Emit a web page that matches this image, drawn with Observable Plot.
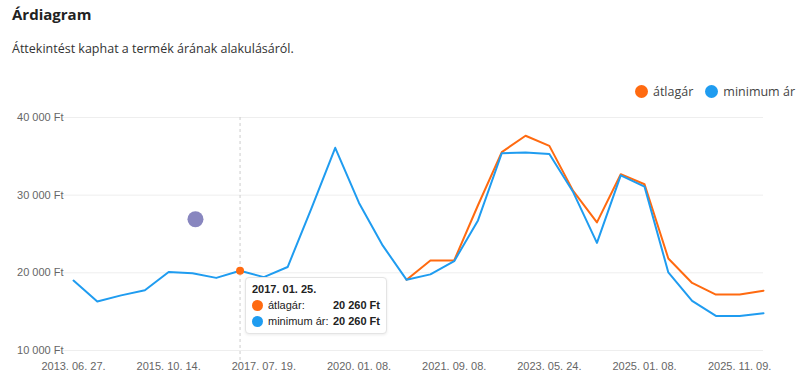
<!DOCTYPE html>
<html><head><meta charset="utf-8">
<script src="https://cdn.jsdelivr.net/npm/d3@7"></script>
<script src="https://cdn.jsdelivr.net/npm/@observablehq/plot@0.6"></script>
<style>
body{margin:0;background:#fff;font-family:"Open Sans",sans-serif;width:800px;height:384px;overflow:hidden;position:relative}
#title{position:absolute;left:12px;top:4px;font-size:15px;font-weight:700;color:#222}
#sub{position:absolute;left:12px;top:40px;font-size:12.5px;color:#333}
#legend{position:absolute;right:5px;top:83px;font-size:12.5px;color:#444;display:flex;gap:12px}
#legend span{display:flex;align-items:center}
#legend i{display:inline-block;width:13px;height:13px;border-radius:50%;margin-right:5px}
#chart{position:absolute;left:0;top:100px}
#tip{position:absolute;left:245px;top:277px;width:142px;height:57px;background:#fff;border:1px solid #e4e4e4;border-radius:4px;box-shadow:0 1px 3px rgba(0,0,0,.08);font-family:Arial,"Liberation Sans",sans-serif;font-size:11px;color:#222;box-sizing:border-box;padding:4px 6px}
#tip .h{font-weight:700;margin-bottom:2px;margin-top:1px}
#tip .r{display:flex;align-items:center;height:16px}
#tip .r i{display:inline-block;width:11px;height:11px;border-radius:50%;margin-right:5px}
#tip .r b{margin-left:auto}
</style></head><body>
<div id="title">Árdiagram</div>
<div id="sub">Áttekintést kaphat a termék árának alakulásáról.</div>
<div id="legend"></div>
<div id="chart"></div>
<div id="tip"></div>
<script>
const dates = ["2013. 06. 27.","2014. 01. 15.","2014. 08. 06.","2015. 03. 11.","2015. 10. 14.","2016. 03. 02.","2016. 08. 10.","2017. 01. 25.","2017. 07. 19.","2018. 02. 07.","2018. 09. 12.","2019. 05. 22.","2020. 01. 08.","2020. 06. 17.","2020. 11. 04.","2021. 04. 14.","2021. 09. 08.","2022. 02. 09.","2022. 07. 13.","2022. 12. 07.","2023. 05. 24.","2023. 10. 18.","2024. 03. 13.","2024. 08. 07.","2025. 01. 08.","2025. 04. 16.","2025. 07. 02.","2025. 09. 03.","2025. 11. 09.","2025. 12. 17."];
const minPrice = [19000,16300,17100,17750,20100,19950,19350,20260,19450,20750,28300,36100,29000,23500,19100,19800,21500,26750,35400,35500,35300,30400,23850,32550,31100,20050,16400,14450,14450,14800];
const avgPrice = [null,null,null,null,null,null,null,20260,null,null,null,null,null,null,19100,21600,21600,28700,35550,37650,36350,30550,26500,32700,31400,21850,18700,17200,17200,17700];
const tickDates = ["2013. 06. 27.","2015. 10. 14.","2017. 07. 19.","2020. 01. 08.","2021. 09. 08.","2023. 05. 24.","2025. 01. 08.","2025. 11. 09."];
const yTicks = [10000,20000,30000,40000];
const seriesNames = ["átlagár","minimum ár"];
const seriesColors = ["#ff6a10","#1f9cf0"];
const hoverDate = "2017. 01. 25.";
const extraPoint = [{date:"2016. 03. 02.", value:26900}];

const fmt = v => d3.format(",")(v).replace(/,/g," ") + " Ft";
const idx = d => dates.indexOf(d);
const rows = dates.map((d,i)=>({i, date:d, min:minPrice[i], avg:avgPrice[i]}));
const avgRows = rows.filter(r => r.i >= 14);
const hover = rows.find(r=>r.date===hoverDate);
const extra = extraPoint.map(p => ({i: idx(p.date), value: p.value}));

document.getElementById("legend").innerHTML = seriesNames.map((n,i)=>`<span><i style="background:${seriesColors[i]}"></i>${n}</span>`).join("");
document.getElementById("tip").innerHTML = `<div class="h">${hover.date}</div>`+
  `<div class="r"><i style="background:${seriesColors[0]}"></i>${seriesNames[0]}:<b>${fmt(hover.avg)}</b></div>`+
  `<div class="r"><i style="background:${seriesColors[1]}"></i>${seriesNames[1]}:<b>${fmt(hover.min)}</b></div>`;

const chart = Plot.plot({
  width: 800, height: 284,
  marginLeft: 73, marginRight: 37, marginTop: 17, marginBottom: 34,
  style: {fontFamily: "Arial, 'Liberation Sans', sans-serif", fontSize: "11px", color: "#666", background: "transparent"},
  x: {type: "linear", domain: [0, dates.length - 1], label: null},
  y: {domain: [10000, 40000], label: null},
  marks: [
    Plot.ruleY(yTicks, {stroke: "#eeeeee", strokeOpacity: 1, insetLeft: -10}),
    Plot.ruleX([idx(hoverDate)], {stroke: "#cccccc", strokeDasharray: "3,3", insetBottom: -10}),
    Plot.axisY(yTicks, {tickSize: 0, tickPadding: 10, tickFormat: fmt, fill: "#666", fontSize: 11}),
    Plot.axisX(tickDates.map(idx), {tickSize: 0, tickPadding: 12, tickFormat: i => dates[i], fill: "#666", fontSize: 11}),
    Plot.line(avgRows, {x: "i", y: "avg", stroke: seriesColors[0], strokeWidth: 2}),
    Plot.line(rows, {x: "i", y: "min", stroke: seriesColors[1], strokeWidth: 2}),
    Plot.dot([hover], {x: "i", y: "avg", r: 4, fill: seriesColors[0]}),
    Plot.dot(extra, {x: "i", y: "value", r: 8, fill: "#8886bf", dx: 3})
  ]
});
document.getElementById("chart").appendChild(chart);
</script>
</body></html>
